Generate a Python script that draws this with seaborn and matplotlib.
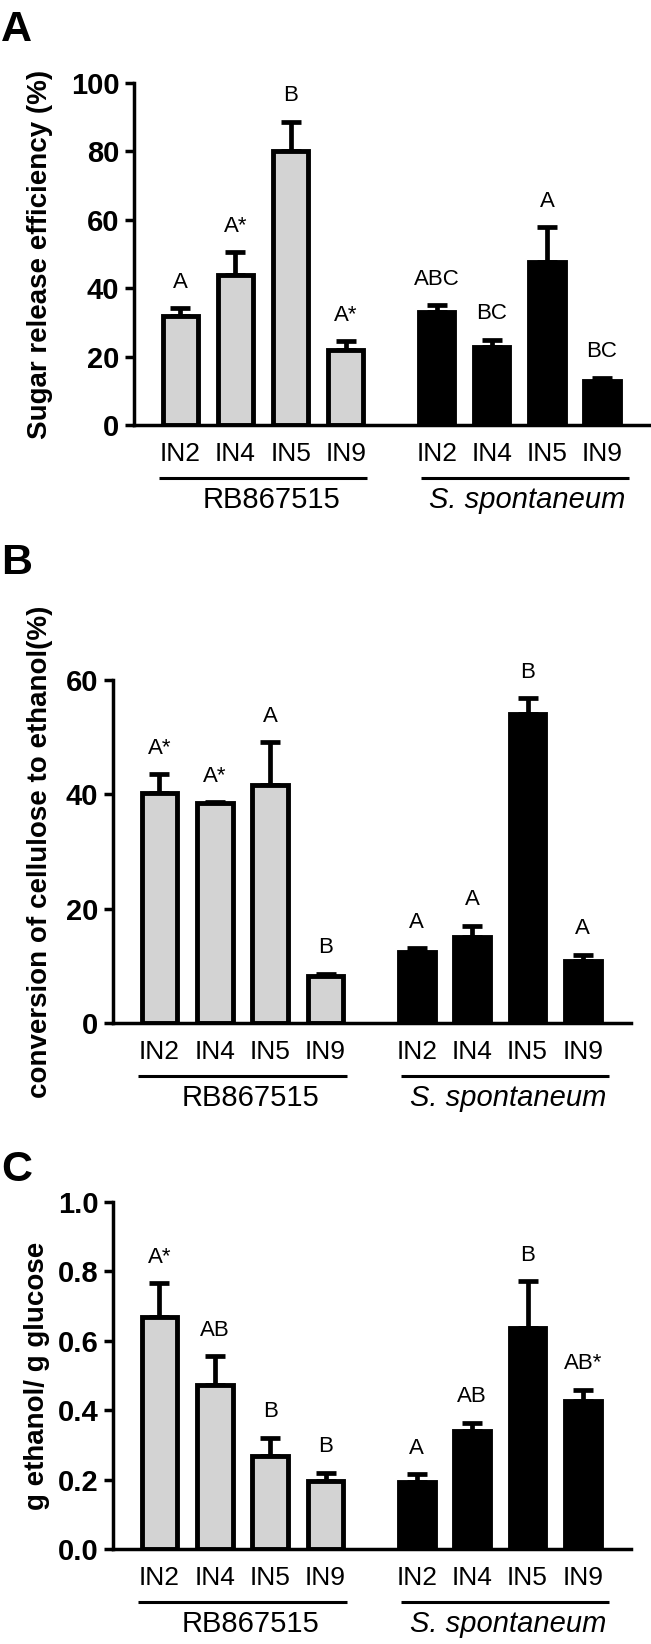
import numpy as np
import pandas as pd
import matplotlib
matplotlib.use("Agg")
import matplotlib.pyplot as plt
import matplotlib.transforms as mtransforms
import seaborn as sns

# ---------------- data ----------------
internodes = ["IN2", "IN4", "IN5", "IN9"]
genotypes = ["RB867515", "S. spontaneum"]

sugar_mean = [31.8, 43.8, 80.2, 21.9, 33.1, 22.8, 47.8, 12.9]
sugar_sem = [2.4, 6.7, 8.5, 2.6, 1.9, 2.1, 10.0, 0.9]
sugar_letters = ["A", "A*", "B", "A*", "ABC", "BC", "A", "BC"]

conv_mean = [40.3, 38.4, 41.6, 8.3, 12.5, 15.1, 54.0, 10.9]
conv_sem = [3.2, 0.2, 7.5, 0.3, 0.6, 1.9, 2.8, 1.0]
conv_letters = ["A*", "A*", "A", "B", "A", "A", "B", "A"]

yield_mean = [0.668, 0.472, 0.268, 0.197, 0.194, 0.341, 0.637, 0.427]
yield_sem = [0.098, 0.084, 0.052, 0.023, 0.021, 0.023, 0.134, 0.032]
yield_letters = ["A*", "AB", "B", "B", "A", "AB", "B", "AB*"]

ylabels = ["Sugar release efficiency (%)",
           "conversion of cellulose to ethanol(%)",
           "g ethanol/ g glucose"]
yticks_list = [[0, 20, 40, 60, 80, 100], [0, 20, 40, 60],
               [0.0, 0.2, 0.4, 0.6, 0.8, 1.0]]
ytick_fmt = ["{:.0f}", "{:.0f}", "{:.1f}"]
panel_letters = ["A", "B", "C"]

# ---------------- style ----------------
sns.set_style("ticks")
plt.rcParams["font.family"] = ["Liberation Sans", "DejaVu Sans"]
for key in ["text.color", "axes.labelcolor", "xtick.color", "ytick.color",
            "axes.edgecolor"]:
    plt.rcParams[key] = "black"

W, H = 651, 1644
fig = plt.figure(figsize=(W / 100, H / 100), dpi=100)


def rect(l, r, t, b):
    return [l / W, 1 - b / H, (r - l) / W, (b - t) / H]


# axes boxes in pixels (left, right, top, bottom)
boxes = [(134, 650, 83, 425), (113, 631, 680, 1023), (113, 631, 1202, 1549)]
ylabel_x = [40, 40, 37]
letter_base = [41, 574, 1181]

group_gap = 4.65
pos = [i + g * group_gap for g in range(2) for i in range(4)]
geno_col = [genotypes[g] for g in range(2) for i in range(4)]
palette = {"RB867515": "#d3d3d3", "S. spontaneum": "#000000"}

datasets = [(sugar_mean, sugar_sem, sugar_letters),
            (conv_mean, conv_sem, conv_letters),
            (yield_mean, yield_sem, yield_letters)]

for k, (means, sems, letters) in enumerate(datasets):
    l, r, t, b = boxes[k]
    ax = fig.add_axes(rect(l, r, t, b))
    df = pd.DataFrame({"pos": pos, "val": means, "genotype": geno_col})
    sns.barplot(data=df, x="pos", y="val", hue="genotype", palette=palette,
                native_scale=True, width=0.64, dodge=False, edgecolor="black",
                linewidth=3.5, errorbar=None, legend=False, saturation=1,
                ax=ax, zorder=2)
    ax.errorbar(pos, means, yerr=[np.zeros(len(sems)), sems], fmt="none",
                ecolor="black", elinewidth=3.4, capsize=7.5, capthick=3.4,
                zorder=1)
    for x, m, s, lt in zip(pos, means, sems, letters):
        ax.annotate(lt, xy=(x, m + s), xytext=(0, 18.7),
                    textcoords="offset points", ha="center", va="center",
                    fontsize=16, annotation_clip=False)

    yt = yticks_list[k]
    ax.set_ylim(yt[0], yt[-1])
    ax.set_xlim(-0.84, 8.52)
    ax.set_yticks(yt)
    ax.set_yticklabels([ytick_fmt[k].format(v) for v in yt],
                       fontsize=21, fontweight="bold")
    ax.set_xticks(pos)
    ax.set_xticklabels(internodes * 2, fontsize=19)
    ax.tick_params(axis="x", length=0, pad=12)
    ax.tick_params(axis="y", length=6.5, width=2.5, pad=4)
    sns.despine(ax=ax)
    for sp in ["left", "bottom"]:
        ax.spines[sp].set_linewidth(2.5)
    ax.set_xlabel("")
    ax.set_ylabel(ylabels[k], fontsize=20, fontweight="bold", va="center")
    ax.yaxis.set_label_coords((ylabel_x[k] - l) / (r - l), 0.5)

    # group underlines and names
    base = mtransforms.blended_transform_factory(ax.transData, ax.transAxes)
    line_tr = mtransforms.offset_copy(base, fig=fig, y=-53, units="dots")
    for g, name in enumerate(genotypes):
        x0 = pos[g * 4] - 0.38 + 0.1 * g
        x1 = pos[g * 4 + 3] + 0.38 + 0.1 * g
        ax.plot([x0, x1], [0, 0], color="black", lw=2.2, transform=line_tr,
                clip_on=False, solid_capstyle="butt")
        cx = (pos[g * 4] + pos[g * 4 + 3]) / 2 + 0.15
        ax.annotate(name, xy=(cx, 0), xycoords=("data", "axes fraction"),
                    xytext=(0, -54), textcoords="offset points",
                    ha="center", va="center", fontsize=21,
                    style="italic" if g == 1 else "normal",
                    annotation_clip=False)

    fig.text(0.002, 1 - letter_base[k] / H, panel_letters[k], fontsize=31,
             fontweight="bold", ha="left", va="baseline")

fig.savefig("out.png", dpi=100)
